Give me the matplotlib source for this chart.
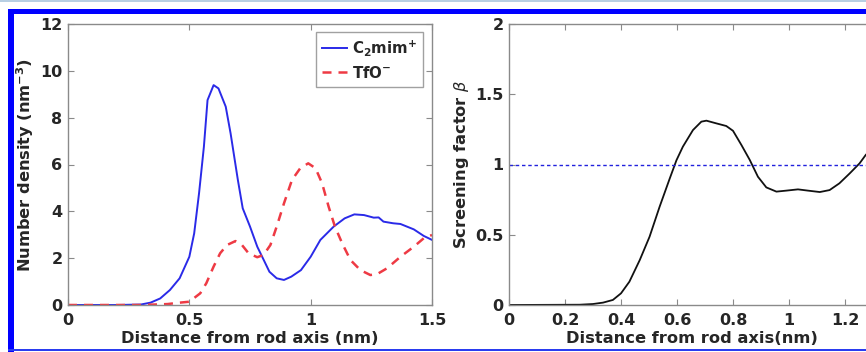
import matplotlib
matplotlib.use("Agg")
import matplotlib.pyplot as plt
from matplotlib.patches import Rectangle
import numpy as np

# ---- data ----
cat_x = [0.0, 0.20, 0.30, 0.34, 0.38, 0.42, 0.46, 0.48, 0.50, 0.52, 0.54, 0.56, 0.575, 0.60,
         0.62, 0.65, 0.67, 0.70, 0.72, 0.75, 0.78, 0.81, 0.83, 0.86, 0.89, 0.92, 0.96,
         1.00, 1.04, 1.095, 1.14, 1.18, 1.22, 1.26, 1.28, 1.30, 1.34, 1.37, 1.425, 1.466, 1.50]
cat_y = [0.0, 0.0, 0.02, 0.10, 0.28, 0.64, 1.14, 1.60, 2.06, 3.06, 4.77, 6.76, 8.75, 9.39,
         9.25, 8.47, 7.33, 5.34, 4.13, 3.35, 2.49, 1.85, 1.42, 1.14, 1.07, 1.21, 1.49,
         2.06, 2.78, 3.35, 3.70, 3.87, 3.84, 3.73, 3.74, 3.56, 3.49, 3.46, 3.23, 2.95, 2.78]

an_x = [0.0, 0.30, 0.41, 0.46, 0.50, 0.545, 0.57, 0.60, 0.627, 0.655, 0.69, 0.717, 0.744,
        0.78, 0.806, 0.834, 0.86, 0.89, 0.923, 0.957, 0.99, 1.02, 1.047, 1.074, 1.10, 1.13,
        1.164, 1.205, 1.246, 1.274, 1.315, 1.37, 1.425, 1.466, 1.50]
an_y = [0.0, 0.0, 0.04, 0.10, 0.14, 0.50, 0.93, 1.64, 2.21, 2.56, 2.73, 2.56, 2.21,
        2.04, 2.14, 2.56, 3.35, 4.34, 5.34, 5.84, 6.05, 5.84, 5.20, 4.20, 3.35, 2.63,
        1.92, 1.49, 1.28, 1.32, 1.57, 2.06, 2.49, 2.85, 2.99]

beta_x = [0.0, 0.252, 0.30, 0.336, 0.371, 0.40, 0.43, 0.467, 0.502, 0.538, 0.574, 0.598,
          0.621, 0.657, 0.687, 0.705, 0.74, 0.776, 0.80, 0.83, 0.86, 0.889, 0.919, 0.955,
          0.99, 1.032, 1.068, 1.11, 1.145, 1.18, 1.217, 1.252, 1.274, 1.29]
beta_y = [0.0, 0.002, 0.007, 0.017, 0.036, 0.083, 0.166, 0.32, 0.486, 0.70, 0.90, 1.03,
          1.127, 1.245, 1.305, 1.312, 1.293, 1.274, 1.24, 1.139, 1.032, 0.913, 0.837, 0.807,
          0.814, 0.823, 0.814, 0.804, 0.818, 0.866, 0.937, 1.008, 1.068, 1.10]

left_xticks = [0, 0.5, 1, 1.5]
left_xticklabels = ["0", "0.5", "1", "1.5"]
left_yticks = [0, 2, 4, 6, 8, 10, 12]
right_xticks = [0, 0.2, 0.4, 0.6, 0.8, 1.0, 1.2]
right_xticklabels = ["0", "0.2", "0.4", "0.6", "0.8", "1", "1.2"]
right_yticks = [0, 0.5, 1, 1.5, 2]
right_yticklabels = ["0", "0.5", "1", "1.5", "2"]

W, H = 866, 352
fig = plt.figure(figsize=(W / 100, H / 100), dpi=100)

def ax_rect(x0, y0, x1, y1):
    return [x0 / W, 1 - y1 / H, (x1 - x0) / W, (y1 - y0) / H]

spine_c = "#8a8a8a"
txt_c = "#262626"
fs_tick = 11.5
fs_lab = 11.7

def style(ax):
    for s in ax.spines.values():
        s.set_color(spine_c)
        s.set_linewidth(1.0)
    ax.tick_params(direction="in", length=4, width=0.8, color=spine_c,
                   top=True, right=True, labelsize=fs_tick, labelcolor=txt_c)
    ax.tick_params(axis="x", pad=6)
    ax.tick_params(axis="y", pad=4)
    for lab in ax.get_xticklabels() + ax.get_yticklabels():
        lab.set_fontweight("bold")

label_top = -0.092

# left panel
ax1 = fig.add_axes(ax_rect(68, 24, 432, 305))
ax1.plot(cat_x, cat_y, color="#2a2ae8", lw=1.4, label=r"$\mathbf{C_2}$mim$^{\mathbf{+}}$")
ax1.plot(an_x, an_y, color="#ee3a44", lw=1.8, ls=(0, (3.6, 2.8)), label=r"TfO$^{\mathbf{-}}$")
ax1.set_xlim(0, 1.5)
ax1.set_ylim(0, 12)
ax1.set_xticks(left_xticks)
ax1.set_xticklabels(left_xticklabels)
ax1.set_yticks(left_yticks)
style(ax1)
ax1.set_xlabel("Distance from rod axis (nm)", fontsize=fs_lab, fontweight="bold", color=txt_c)
ax1.xaxis.set_label_coords(0.5, label_top)
ax1.set_ylabel(r"Number density (nm$^{\mathbf{-3}}$)", fontsize=fs_lab, fontweight="bold", color=txt_c, labelpad=3)
leg = ax1.legend(loc="upper right", bbox_to_anchor=(0.975, 0.972), borderaxespad=0.0,
                 frameon=True, fancybox=False, edgecolor=spine_c,
                 prop={"weight": "bold", "size": 10.8}, handlelength=1.7,
                 handletextpad=0.3, borderpad=0.4, labelspacing=0.45)
leg.get_frame().set_linewidth(1.0)
for t in leg.get_texts():
    t.set_color(txt_c)

# right panel (extends beyond the cropped image edge)
ax2 = fig.add_axes(ax_rect(509, 24, 929, 305))
ax2.plot(beta_x, beta_y, color="#111111", lw=1.3)
ax2.axhline(1.0, color="#2222dd", lw=1.0, ls=(0, (2.5, 2)))
ax2.set_xlim(0, 1.5)
ax2.set_ylim(0, 2)
ax2.set_xticks(right_xticks)
ax2.set_xticklabels(right_xticklabels)
ax2.set_yticks(right_yticks)
ax2.set_yticklabels(right_yticklabels)
style(ax2)
ax2.set_xlabel("Distance from rod axis(nm)", fontsize=fs_lab, fontweight="bold", color=txt_c)
ax2.xaxis.set_label_coords((692 - 509) / 420, label_top)
ax2.set_ylabel(r"Screening factor $\beta$", fontsize=fs_lab, fontweight="bold", color=txt_c, labelpad=3)

# frame decoration
def frect(x0, y0, x1, y1, c):
    fig.patches.append(Rectangle((x0 / W, 1 - y1 / H), (x1 - x0) / W, (y1 - y0) / H,
                                 transform=fig.transFigure, color=c, zorder=10, lw=0))

frect(0, 0, W, 2, "#b8cfe3")
frect(8, 9, W, 14, "#0000ff")
frect(8, 9, 14, H, "#0000ff")
frect(8, 349, W, 351, "#2a3cf0")

fig.savefig("out.png", dpi=100)
